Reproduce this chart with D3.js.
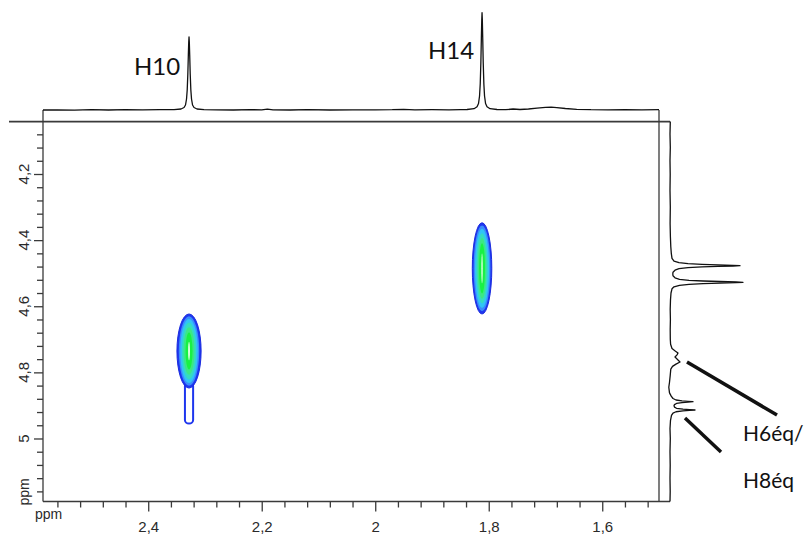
<!DOCTYPE html>
<html><head><meta charset="utf-8">
<script src="https://cdn.jsdelivr.net/npm/d3@7"></script>
<style>body{margin:0;background:#fff}svg{display:block}</style>
</head><body><svg id="c" width="808" height="534"></svg>
<script>
// ---- data (ppm values) ----
const xDomain = [2.5854, 1.5];          // F2 (horizontal) ppm range
const yDomain = [4.0415, 5.1906];       // F1 (vertical) ppm range
const xMajorTicks = [2.4, 2.2, 2.0, 1.8, 1.6];
const yMajorTicks = [4.2, 4.4, 4.6, 4.8, 5.0];
const xMinorTicks = [2.56,2.52,2.48,2.44,2.36,2.32,2.28,2.24,2.16,2.12,2.08,2.04,1.96,1.92,1.88,1.84,1.76,1.72,1.68,1.64,1.56,1.52];
const yMinorTicks = [4.08,4.12,4.16,4.24,4.28,4.32,4.36,4.44,4.48,4.52,4.56,4.64,4.68,4.72,4.76,4.84,4.88,4.92,4.96,5.04,5.08,5.12,5.16];

// top projection: [ppm, intensity]
const topTrace = [[2.5854,0],[2.56,0.2],[2.53,-0.2],[2.50,0.3],[2.47,0],[2.44,0.3],[2.41,0.1],[2.38,0.3],
[2.3545,0.4],[2.3422,1],[2.3369,2.5],[2.3343,5],[2.3325,11],[2.3313,20],[2.3302,36],[2.3293,55],[2.3286,68],[2.3281,73],[2.3276,68],[2.3269,55],[2.3260,36],[2.3249,20],[2.3237,11],[2.3219,5],[2.3193,2.5],[2.3140,1],[2.3017,0.4],
[2.28,0.2],[2.25,0],[2.22,0.3],[2.20,0.2],[2.19,0.9],[2.18,0.2],[2.15,0],[2.12,0.3],[2.08,0],[2.04,0.2],[2.00,0.1],[1.97,0.3],[1.95,0.7],[1.93,0.1],[1.90,0.3],[1.87,0.2],[1.85,0.4],
[1.8382,0.5],[1.8259,1.3],[1.8206,3.3],[1.8180,6.5],[1.8162,14],[1.8150,26],[1.8139,47],[1.8130,72],[1.8123,90],[1.8118,97.3],[1.8113,90],[1.8106,72],[1.8097,47],[1.8086,26],[1.8074,14],[1.8056,6.5],[1.8030,3.3],[1.7977,1.3],[1.7854,0.5],
[1.77,0.3],[1.757,1.0],[1.745,0.5],[1.73,1.0],[1.715,1.8],[1.70,2.6],[1.69,2.8],[1.68,2.4],[1.665,1.5],[1.645,0.7],[1.62,0.3],[1.59,0.2],[1.56,0.4],[1.53,0.1],[1.5,0.3]];

// right projection: [ppm, intensity]
const rightTrace = [[4.0415,0.3],[4.08,0],[4.12,0.3],[4.16,0],[4.20,0.2],[4.25,0],[4.30,0.3],[4.35,0.1],[4.39,0.4],[4.42,0.8],[4.44,1.3],[4.455,2],[4.4637,4],[4.4682,9],[4.4713,18],[4.4734,32],[4.4749,48],[4.4761,63],[4.4773,70],[4.4785,63],[4.4797,48],[4.4812,32],[4.4833,18],[4.4864,9],[4.4909,5],[4.4970,3],[4.5025,2.8],[4.5079,3],[4.5140,5],[4.5185,9.5],[4.5216,19],[4.5237,33],[4.5252,50],[4.5264,66],[4.5276,73],[4.5288,66],[4.5300,50],[4.5315,33],[4.5336,19],[4.5367,9.5],[4.5412,4],[4.5473,2],[4.56,1],[4.58,0.5],[4.61,0.2],[4.64,0.4],[4.67,0.2],[4.70,0.3],[4.715,0.6],[4.728,2],[4.736,5.5],[4.7414,8],[4.747,7],[4.7535,5],[4.761,7.5],[4.7687,10],[4.775,6],[4.782,2.5],[4.79,0.8],[4.81,0.2],[4.83,-0.5],[4.845,-1.2],[4.862,-0.5],[4.872,1.2],[4.879,3],[4.8836,6],[4.8861,12],[4.8876,18],[4.8888,23],[4.8900,18],[4.8915,12],[4.8940,6.5],[4.8975,4.5],[4.9013,4],[4.905,4.5],[4.9087,6.5],[4.9112,13],[4.9127,19.5],[4.9139,25],[4.9151,19.5],[4.9166,13],[4.9191,6],[4.923,3],[4.93,1.5],[4.945,0.5],[4.97,0],[5.0,0.3],[5.04,0],[5.08,0.2],[5.12,0],[5.16,0.2],[5.1906,0]];

// 2D cross peaks: centre (F2 ppm, F1 ppm) and contour half-widths per level [F2, F1] ppm
const peakNames = ["H10", "H14"];
const peakF2 = [2.3281, 1.8118];
const peakF1 = [4.7354, 4.4855];
const peakLevels = [
  [[0.0213,0.112],[0.0180,0.105],[0.0155,0.097],[0.0125,0.086],[0.0095,0.072],[0.0062,0.056],[0.0016,0.028]],
  [[0.0172,0.138],[0.0148,0.130],[0.0125,0.120],[0.0100,0.106],[0.0076,0.092],[0.0052,0.076],[0.0012,0.045]]
];
const levelColors = ["#1e36ee","#3a8cfc","#31c4f6","#36dcc0","#3ce884","#18f244","#eaffea"];
// outer-contour tail of the H10 cross peak: F2 centre, F2 half-width, F1 start, F1 end
const tailF2 = 2.3281, tailHalfW = 0.0072, tailF1 = [4.83, 4.955];

// annotations
const topLabels = [{t:"H10", ppm:2.3281}, {t:"H14", ppm:1.8118}];
const sideLabels = ["H6éq/", "H8éq"];

// ---- drawing ----
const svg = d3.select("#c");
const x = d3.scaleLinear().domain(xDomain).range([43, 659]);
const y = d3.scaleLinear().domain(yDomain).range([121.6, 501.5]);
const yTop = d3.scaleLinear().domain([0, 100]).range([110, 10]);
const xRight = d3.scaleLinear().domain([0, 100]).range([670, 770]);
const frame = "#3a3a3a";

// contours
const g2 = svg.append("g");
const tw = Math.abs(x(tailF2 + tailHalfW) - x(tailF2));
g2.append("rect")
  .attr("x", x(tailF2) - tw).attr("width", 2 * tw)
  .attr("y", y(tailF1[0])).attr("height", y(tailF1[1]) - y(tailF1[0]))
  .attr("rx", tw).attr("ry", tw * 0.9)
  .attr("fill", "#fff").attr("stroke", levelColors[0]).attr("stroke-width", 2);
peakF2.forEach((cx, i) => {
  g2.selectAll(null).data(peakLevels[i]).join("ellipse")
    .attr("cx", x(cx)).attr("cy", y(peakF1[i]))
    .attr("rx", d => Math.abs(x(cx + d[0]) - x(cx)))
    .attr("ry", d => y(peakF1[i] + d[1]) - y(peakF1[i]))
    .attr("fill", (d, j) => levelColors[j])
    .attr("stroke", (d, j) => j === 0 ? "#1a2be0" : "none")
    .attr("stroke-width", 1);
});

// frame lines
svg.append("line").attr("x1", 9).attr("x2", xRight(0)).attr("y1", y(yDomain[0])).attr("y2", y(yDomain[0])).attr("stroke", frame).attr("stroke-width", 1.6);
svg.append("line").attr("x1", x(xDomain[0])).attr("x2", x(xDomain[0])).attr("y1", yTop(0)).attr("y2", y(yDomain[1])).attr("stroke", frame).attr("stroke-width", 1.3);
svg.append("line").attr("x1", x(xDomain[1])).attr("x2", x(xDomain[1])).attr("y1", yTop(0)).attr("y2", y(yDomain[1])).attr("stroke", frame).attr("stroke-width", 1.3);
svg.append("line").attr("x1", x(xDomain[0])).attr("x2", xRight(0)).attr("y1", y(yDomain[1])).attr("y2", y(yDomain[1])).attr("stroke", frame).attr("stroke-width", 1.3);

// axes
const fmt = d => String(d).replace(".", ",");
const tickFont = "Liberation Sans, Arial, sans-serif";
const gxMinor = svg.append("g").attr("transform", `translate(0,${y(yDomain[1])})`)
  .call(d3.axisBottom(x).tickValues(xMinorTicks).tickSize(6).tickFormat(""));
const gxMajor = svg.append("g").attr("transform", `translate(0,${y(yDomain[1])})`)
  .call(d3.axisBottom(x).tickValues(xMajorTicks).tickSize(10).tickPadding(10).tickFormat(fmt));
const gyMinor = svg.append("g").attr("transform", `translate(${x(xDomain[0])},0)`)
  .call(d3.axisLeft(y).tickValues(yMinorTicks).tickSize(6).tickFormat(""));
const gyMajor = svg.append("g").attr("transform", `translate(${x(xDomain[0])},0)`)
  .call(d3.axisLeft(y).tickValues(yMajorTicks).tickSize(9).tickFormat(""));
[gxMinor, gxMajor, gyMinor, gyMajor].forEach(g => {
  g.select(".domain").remove();
  g.selectAll(".tick line").attr("stroke", frame).attr("stroke-width", 1.3);
});
gxMajor.selectAll(".tick text").attr("font-family", tickFont).attr("font-size", 15).attr("fill", "#2a2a2a");

svg.append("g").selectAll("text").data(yMajorTicks).join("text")
  .attr("transform", d => `translate(29,${y(d)}) rotate(-90)`)
  .attr("text-anchor", "middle")
  .attr("font-family", tickFont).attr("font-size", 15).attr("fill", "#2a2a2a")
  .text(fmt);
svg.append("text").attr("transform", `translate(29,492) rotate(-90)`).attr("text-anchor", "middle")
  .attr("font-family", tickFont).attr("font-size", 14).attr("fill", "#2a2a2a").text("ppm");
svg.append("text").attr("x", 35).attr("y", 519)
  .attr("font-family", tickFont).attr("font-size", 14).attr("fill", "#2a2a2a").text("ppm");

// projections
svg.append("path").datum(topTrace)
  .attr("d", d3.line().x(d => x(d[0])).y(d => yTop(d[1])))
  .attr("fill", "none").attr("stroke", "#111").attr("stroke-width", 1.3).attr("stroke-linejoin", "round");
svg.append("path").datum(rightTrace)
  .attr("d", d3.line().x(d => xRight(d[1])).y(d => y(d[0])))
  .attr("fill", "none").attr("stroke", "#111").attr("stroke-width", 1.3).attr("stroke-linejoin", "round");

// labels
const labelFont = "Lato, 'Open Sans', sans-serif";
svg.append("text").attr("x", 134).attr("y", 75).attr("font-family", labelFont).attr("font-size", 24).attr("fill", "#111").text(topLabels[0].t);
svg.append("text").attr("x", 428).attr("y", 58.5).attr("font-family", labelFont).attr("font-size", 24).attr("fill", "#111").text(topLabels[1].t);
svg.append("text").attr("x", 743).attr("y", 441).attr("font-family", labelFont).attr("font-size", 21).attr("fill", "#111").text(sideLabels[0]);
svg.append("text").attr("x", 743).attr("y", 488).attr("font-family", labelFont).attr("font-size", 21).attr("fill", "#111").text(sideLabels[1]);
svg.append("line").attr("x1", 687).attr("y1", 362).attr("x2", 777).attr("y2", 415).attr("stroke", "#111").attr("stroke-width", 3.5);
svg.append("line").attr("x1", 685).attr("y1", 418).attr("x2", 721).attr("y2", 452).attr("stroke", "#111").attr("stroke-width", 3.5);
</script></body></html>
